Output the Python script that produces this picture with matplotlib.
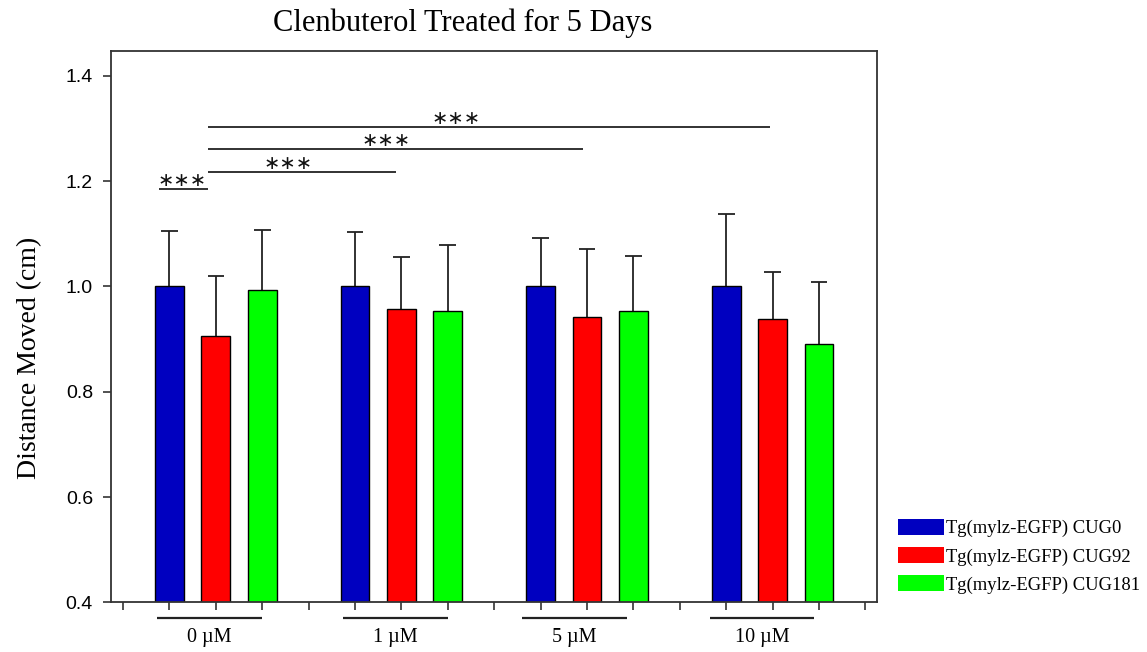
import matplotlib
matplotlib.use("Agg")
import matplotlib.pyplot as plt
from matplotlib.patches import Patch
import numpy as np

doses = ["0 µM", "1 µM", "5 µM", "10 µM"]
series = ["Tg(mylz-EGFP) CUG0", "Tg(mylz-EGFP) CUG92", "Tg(mylz-EGFP) CUG181"]
colors = ["#0000C0", "#FF0000", "#00FF00"]

cug0 = [1.0, 1.0, 1.0, 1.0]
cug0_err = [0.106, 0.103, 0.093, 0.138]
cug92 = [0.906, 0.957, 0.942, 0.938]
cug92_err = [0.113, 0.099, 0.129, 0.090]
cug181 = [0.994, 0.954, 0.954, 0.890]
cug181_err = [0.113, 0.124, 0.103, 0.118]

# significance brackets (x from / x to in bar slots, y level, star x)
sig_x0 = [0.78, 1.82, 1.82, 1.82]
sig_x1 = [1.84, 5.88, 9.91, 13.94]
sig_y = [1.185, 1.218, 1.261, 1.303]
star_x = [1.28, 3.56, 5.67, 7.18]

# group underlines below the axis
grp_x0 = [0.73, 4.73, 8.60, 12.64]
grp_x1 = [3.00, 7.00, 10.86, 14.90]

serif = "Liberation Serif"
sans = "Liberation Sans"

fig = plt.figure(figsize=(11.47, 6.52), dpi=100)
ax = fig.add_axes([111 / 1147, 1 - 602.3 / 652, 766 / 1147, 551.6 / 652])

means = [cug0, cug92, cug181]
errs = [cug0_err, cug92_err, cug181_err]
for j in range(3):
    x = np.arange(len(doses)) * 4 + 1 + j
    m = np.array(means[j])
    e = np.array(errs[j])
    # only the upper half of the error bar, drawn by hand so no cap sits on the bar top
    ax.vlines(x, m, m + e, color="#222222", lw=1.3, zorder=1)
    ax.hlines(m + e, x - 0.18, x + 0.18, color="#222222", lw=1.3, zorder=1)
    ax.bar(x, m, width=0.62, color=colors[j], edgecolor="black", linewidth=1.0, zorder=2)

ax.set_xlim(-0.26, 16.25)
ax.set_ylim(0.4, 1.448)
ax.set_xticks(np.arange(0, 17))
ax.set_xticklabels([])
ax.set_yticks(np.arange(0.4, 1.41, 0.2))
ax.set_yticklabels(["%.1f" % v for v in np.arange(0.4, 1.41, 0.2)], fontfamily=sans, fontsize=14)
ax.tick_params(direction="out", length=6, width=1.1, color="#222222", pad=7)
for s in ax.spines.values():
    s.set_color("#333333")
    s.set_linewidth(1.3)

for x0, x1, y, sx in zip(sig_x0, sig_x1, sig_y, star_x):
    ax.plot([x0, x1], [y, y], color="#222222", lw=1.3, solid_capstyle="butt")
    ax.text(sx, y + 0.016, "∗∗∗", ha="center", va="center", fontsize=14,
            fontfamily="DejaVu Sans", color="#111111")

trans = ax.get_xaxis_transform()
for x0, x1, lab in zip(grp_x0, grp_x1, doses):
    ax.plot([x0, x1], [-0.0285, -0.0285], color="#222222", lw=1.6, transform=trans,
            clip_on=False, solid_capstyle="butt")
    ax.text((x0 + x1) / 2, -0.064, lab, transform=trans, ha="center", va="center",
            fontfamily=serif, fontsize=14.5)

fig.text(463 / 1147, 1 - 23 / 652, "Clenbuterol Treated for 5 Days", ha="center", va="center",
         fontfamily=serif, fontsize=22)
fig.text(30 / 1147, 1 - 358 / 652, "Distance Moved (cm)", ha="center", va="center",
         rotation=90, fontfamily=serif, fontsize=20)

handles = [Patch(facecolor=c, edgecolor="none") for c in colors]
fig.legend(handles, series, loc="upper left", bbox_to_anchor=(898 / 1147, 1 - 519 / 652),
           frameon=False, borderpad=0, borderaxespad=0, handlelength=2.45, handleheight=0.95,
           handletextpad=0.12, labelspacing=0.52, prop=dict(family=serif, size=13.4))

fig.savefig("out.png", dpi=100)
